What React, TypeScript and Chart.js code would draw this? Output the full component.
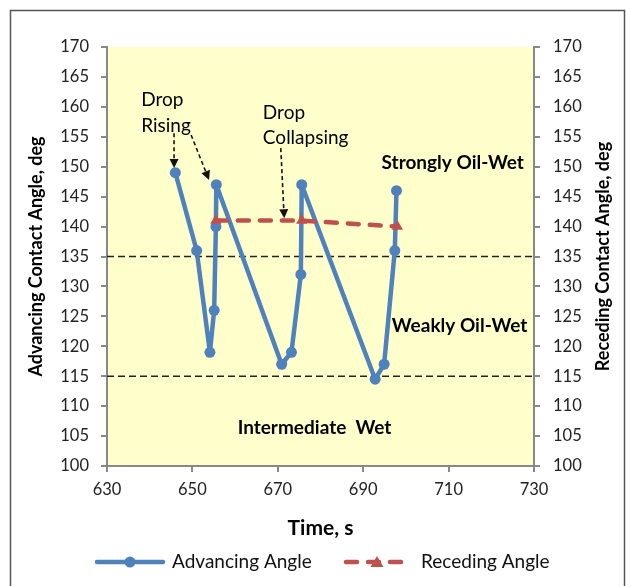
import React, { useEffect, useRef } from "react";
import { Chart, registerables } from "chart.js";

Chart.register(...registerables);

// ---- data ----
const advTime = [646, 651, 654.1, 655.1, 655.5, 655.6, 670.9, 673.2, 675.4, 675.6, 692.8, 694.9, 697.4, 697.8];
const advAngle = [149, 136, 119, 126, 140, 147, 117, 119, 132, 147, 114.5, 117, 136, 146];
const recTime = [655.5, 675.6, 698];
const recAngle = [141, 141, 140];
const boundaryAngles = [135, 115];
const xRange = [630, 730];
const yRange = [100, 170];
const xStep = 20;
const yStep = 5;
const seriesNames = ["Advancing Angle", "Receding Angle"];
const axisTitles = ["Time, s", "Advancing Contact Angle, deg", "Receding Contact Angle, deg"];
// annotation text: [text, x(s), y(deg)]
const noteTexts: [string, number, number][] = [
  ["Drop", 638, 161.2],
  ["Rising", 638, 156.8],
  ["Drop", 666.5, 159.0],
  ["Collapsing", 666.5, 154.8],
];
const regionTexts: [string, number, number][] = [
  ["Strongly Oil-Wet", 694.3, 150.6],
  ["Weakly Oil-Wet", 696.7, 123.4],
  ["Intermediate  Wet", 660.6, 106.4],
];
// arrows: [x1, y1, x2, y2] in data units
const arrows: [number, number, number, number][] = [
  [645.7, 155.6, 645.7, 149.8],
  [649.7, 155.3, 653.9, 147.8],
  [670.7, 153.1, 671.5, 141.4],
];

const BLUE = "#4F81BD";
const RED = "#C0504D";
const FONT = "Lato, 'Open Sans', sans-serif";

function drawArrow(ctx: CanvasRenderingContext2D, x1: number, y1: number, x2: number, y2: number) {
  const a = Math.atan2(y2 - y1, x2 - x1);
  const head = 9, hw = 4.5;
  const bx = x2 - head * Math.cos(a), by = y2 - head * Math.sin(a);
  ctx.save();
  ctx.strokeStyle = "#111";
  ctx.fillStyle = "#111";
  ctx.lineWidth = 1.6;
  ctx.setLineDash([4, 3]);
  ctx.beginPath();
  ctx.moveTo(x1, y1);
  ctx.lineTo(bx, by);
  ctx.stroke();
  ctx.setLineDash([]);
  ctx.beginPath();
  ctx.moveTo(x2, y2);
  ctx.lineTo(bx + hw * Math.sin(a), by - hw * Math.cos(a));
  ctx.lineTo(bx - hw * Math.sin(a), by + hw * Math.cos(a));
  ctx.closePath();
  ctx.fill();
  ctx.restore();
}

const decorPlugin = {
  id: "decor",
  beforeDraw(chart: any) {
    const { ctx, chartArea: ca, width, height } = chart;
    ctx.save();
    ctx.fillStyle = "#fff";
    ctx.fillRect(0, 0, width, height);
    ctx.fillStyle = "#FFFFCC";
    ctx.fillRect(ca.left, ca.top, ca.right - ca.left, ca.bottom - ca.top);
    ctx.strokeStyle = "#555";
    ctx.lineWidth = 1.5;
    ctx.strokeRect(10.5, 10.5, width - 12, height + 20);
    ctx.restore();
  },
  afterDatasetsDraw(chart: any) {
    const { ctx } = chart;
    const xs = chart.scales.x, ys = chart.scales.y;
    ctx.save();
    ctx.fillStyle = "#000";
    ctx.textBaseline = "middle";
    ctx.textAlign = "left";
    ctx.font = `19px ${FONT}`;
    noteTexts.forEach(([t, x, y]) => ctx.fillText(t, xs.getPixelForValue(x), ys.getPixelForValue(y)));
    ctx.font = `bold 19px ${FONT}`;
    regionTexts.forEach(([t, x, y]) => ctx.fillText(t, xs.getPixelForValue(x), ys.getPixelForValue(y)));
    ctx.restore();
    arrows.forEach(([x1, y1, x2, y2]) =>
      drawArrow(ctx, xs.getPixelForValue(x1), ys.getPixelForValue(y1), xs.getPixelForValue(x2), ys.getPixelForValue(y2))
    );
  },
  afterDraw(chart: any) {
    const { ctx, chartArea: ca } = chart;
    ctx.save();
    // right axis title, reading bottom-to-top
    ctx.translate(603, (ca.top + ca.bottom) / 2);
    ctx.rotate(-Math.PI / 2);
    ctx.font = `bold 18px ${FONT}`;
    ctx.fillStyle = "#000";
    ctx.textAlign = "center";
    ctx.textBaseline = "middle";
    ctx.fillText(axisTitles[2], 0, 0);
    ctx.restore();

    // legend
    const ly = 562;
    ctx.save();
    ctx.lineCap = "round";
    ctx.lineWidth = 4.5;
    ctx.strokeStyle = BLUE;
    ctx.beginPath();
    ctx.moveTo(97, ly);
    ctx.lineTo(163, ly);
    ctx.stroke();
    ctx.fillStyle = BLUE;
    ctx.beginPath();
    ctx.arc(130, ly, 5.5, 0, Math.PI * 2);
    ctx.fill();
    ctx.strokeStyle = RED;
    ctx.setLineDash([11, 11]);
    ctx.beginPath();
    ctx.moveTo(346, ly);
    ctx.lineTo(404, ly);
    ctx.stroke();
    ctx.setLineDash([]);
    ctx.fillStyle = RED;
    ctx.beginPath();
    ctx.moveTo(377, ly - 6);
    ctx.lineTo(383.5, ly + 5);
    ctx.lineTo(370.5, ly + 5);
    ctx.closePath();
    ctx.fill();
    ctx.fillStyle = "#111";
    ctx.font = `19px ${FONT}`;
    ctx.textBaseline = "middle";
    ctx.textAlign = "left";
    ctx.fillText(seriesNames[0], 172, ly);
    ctx.fillText(seriesNames[1], 421, ly);
    ctx.restore();
  },
};

export default function App() {
  const ref = useRef<HTMLCanvasElement | null>(null);
  useEffect(() => {
    if (!ref.current) return;
    const tickFont = { family: FONT, size: 16.5 };
    const yTicksCommon = { stepSize: yStep, color: "#222", font: tickFont };
    const chart = new Chart(ref.current, {
      type: "line",
      data: {
        datasets: [
          {
            label: seriesNames[1],
            data: recTime.map((x, i) => ({ x, y: recAngle[i] })),
            yAxisID: "y2",
            borderColor: RED,
            backgroundColor: RED,
            borderWidth: 4.5,
            borderDash: [11, 11],
            borderCapStyle: "round",
            pointStyle: "triangle",
            pointRadius: 6.5,
            pointBorderWidth: 0,
            order: 0,
          },
          {
            label: seriesNames[0],
            data: advTime.map((x, i) => ({ x, y: advAngle[i] })),
            yAxisID: "y",
            borderColor: BLUE,
            backgroundColor: BLUE,
            borderWidth: 4.5,
            borderJoinStyle: "round",
            pointStyle: "circle",
            pointRadius: 5.5,
            pointBorderWidth: 0,
            order: 1,
          },
          ...boundaryAngles.map((a) => ({
            label: "boundary",
            data: [
              { x: xRange[0], y: a },
              { x: xRange[1], y: a },
            ],
            yAxisID: "y",
            borderColor: "#222",
            borderWidth: 1.5,
            borderDash: [7, 4],
            pointRadius: 0,
            order: 2,
          })),
        ] as any,
      },
      options: {
        responsive: false,
        animation: false,
        devicePixelRatio: 1,
        layout: { padding: { top: 47, left: 0, right: 0, bottom: 40 } },
        plugins: { legend: { display: false }, tooltip: { enabled: false } },
        scales: {
          x: {
            type: "linear",
            min: xRange[0],
            max: xRange[1],
            ticks: { stepSize: xStep, color: "#222", font: tickFont, padding: 8, maxRotation: 0 },
            grid: { drawOnChartArea: false, drawTicks: true, tickLength: 6, color: "#888", lineWidth: 2 },
            border: { color: "#888", width: 2 },
            title: {
              display: true,
              text: axisTitles[0],
              color: "#000",
              font: { family: FONT, size: 21, weight: "bold" },
              padding: { top: 0, bottom: 5.4 },
            },
            afterFit: (s: any) => {
              s.height = 80;
            },
          },
          y: {
            type: "linear",
            position: "left",
            min: yRange[0],
            max: yRange[1],
            ticks: { ...yTicksCommon, padding: 12 },
            grid: { drawOnChartArea: false, drawTicks: true, tickLength: 6, color: "#888", lineWidth: 2 },
            border: { color: "#888", width: 2 },
            title: {
              display: true,
              text: axisTitles[1],
              color: "#000",
              font: { family: FONT, size: 18, weight: "bold" },
              padding: { top: 25.2, bottom: 0 },
            },
            afterFit: (s: any) => {
              s.width = 107;
            },
          },
          y2: {
            type: "linear",
            position: "right",
            min: yRange[0],
            max: yRange[1],
            ticks: { ...yTicksCommon, padding: 13 },
            grid: { drawOnChartArea: false, drawTicks: true, tickLength: 6, color: "#888", lineWidth: 2 },
            border: { color: "#888", width: 2 },
            afterFit: (s: any) => {
              s.width = 92;
            },
          },
        },
      } as any,
      plugins: [decorPlugin],
    });
    return () => chart.destroy();
  }, []);
  return (
    <div style={{ position: "fixed", left: 0, top: 0, width: 626, height: 586 }}>
      <canvas ref={ref} width={626} height={586} style={{ width: 626, height: 586 }} />
    </div>
  );
}
